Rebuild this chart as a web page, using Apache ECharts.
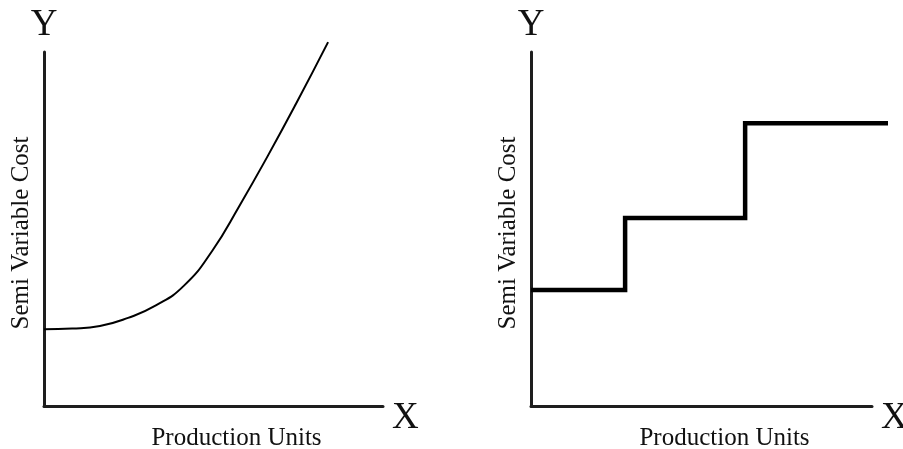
<!DOCTYPE html>
<html>
<head>
<meta charset="utf-8">
<script src="https://cdn.jsdelivr.net/npm/echarts@6/dist/echarts.min.js"></script>
<style>
html,body{margin:0;padding:0;background:#fff;}
#chart{width:903px;height:449px;}
</style>
</head>
<body>
<div id="chart"></div>
<script>
// Left panel: smooth semi-variable cost curve
const curveX = [0, 8.3, 16.5, 24.8, 33.0, 41.3, 49.6, 57.8, 66.1, 74.3, 83.8];
const curveY = [21.7, 21.9, 22.6, 24.9, 28.4, 34.0, 43.8, 56.8, 70.8, 85.3, 102.8];
// Right panel: stepped semi-variable cost
const stepX = [0, 27.6, 27.6, 62.8, 62.8, 104.7];
const stepY = [32.8, 32.8, 53.1, 53.1, 79.9, 79.9];
// Texts
const xName = 'X';
const yName = 'Y';
const xTitle = 'Production Units';
const yTitle = 'Semi Variable Cost';

const FONT = '"Liberation Serif", "Times New Roman", serif';
const chart = echarts.init(document.getElementById('chart'), null, {renderer: 'canvas'});

const hidden = {axisLine: {show: false}, axisTick: {show: false}, axisLabel: {show: false}, splitLine: {show: false}};

function xAxisPair(gi) {
  const axisLine = {show: true, onZero: false, lineStyle: {color: '#1e1e1e', width: 3}};
  return [
    {gridIndex: gi, type: 'value', min: 0, max: 100, position: 'bottom', axisLine: axisLine,
     axisTick: {show: false}, axisLabel: {show: false}, splitLine: {show: false},
     name: xName, nameLocation: 'end', nameGap: 9,
     nameTextStyle: {fontFamily: FONT, fontSize: 37, lineHeight: 25, color: '#111', align: 'left', verticalAlign: 'top'}},
    Object.assign({gridIndex: gi, type: 'value', min: 0, max: 100, position: 'bottom',
     name: xTitle, nameLocation: 'middle', nameGap: 20,
     nameTextStyle: {fontFamily: FONT, fontSize: 25, color: '#111', padding: [0, 0, 0, 46]}}, hidden)
  ];
}
function yAxisPair(gi) {
  const axisLine = {show: true, onZero: false, lineStyle: {color: '#1e1e1e', width: 3}};
  return [
    {gridIndex: gi, type: 'value', min: 0, max: 100, position: 'left', axisLine: axisLine,
     axisTick: {show: false}, axisLabel: {show: false}, splitLine: {show: false},
     name: yName, nameLocation: 'end', nameGap: 8,
     nameTextStyle: {fontFamily: FONT, fontSize: 37, color: '#111', align: 'center'}},
    Object.assign({gridIndex: gi, type: 'value', min: 0, max: 100, position: 'left',
     name: yTitle, nameLocation: 'middle', nameGap: 10, nameRotate: 90,
     nameTextStyle: {fontFamily: FONT, fontSize: 25, color: '#111', padding: [0, 8, 0, 0]}}, hidden)
  ];
}

const option = {
  backgroundColor: '#ffffff',
  animation: false,
  grid: [
    {left: 44, right: 520, top: 52, bottom: 43, outerBoundsMode: 'none', containLabel: false},
    {left: 531, right: 31, top: 52, bottom: 43, outerBoundsMode: 'none', containLabel: false},
    // data area of the right panel, running past the drawn axis end
    {left: 531, right: 15, top: 52, bottom: 43, outerBoundsMode: 'none', containLabel: false}
  ],
  xAxis: [].concat(xAxisPair(0), xAxisPair(1),
    [Object.assign({gridIndex: 2, type: 'value', min: 0, max: 104.7}, hidden)]),
  yAxis: [].concat(yAxisPair(0), yAxisPair(1),
    [Object.assign({gridIndex: 2, type: 'value', min: 0, max: 100}, hidden)]),
  series: [
    {type: 'line', xAxisIndex: 0, yAxisIndex: 0, smooth: 0.5,
     showSymbol: false, clip: false,
     lineStyle: {color: '#000', width: 2},
     data: curveX.map((x, i) => [x, curveY[i]])},
    {type: 'line', xAxisIndex: 4, yAxisIndex: 4, showSymbol: false, clip: false,
     lineStyle: {color: '#000', width: 4.5, join: 'miter', cap: 'butt'},
     data: stepX.map((x, i) => [x, stepY[i]])}
  ]
};
chart.setOption(option);
</script>
</body>
</html>
